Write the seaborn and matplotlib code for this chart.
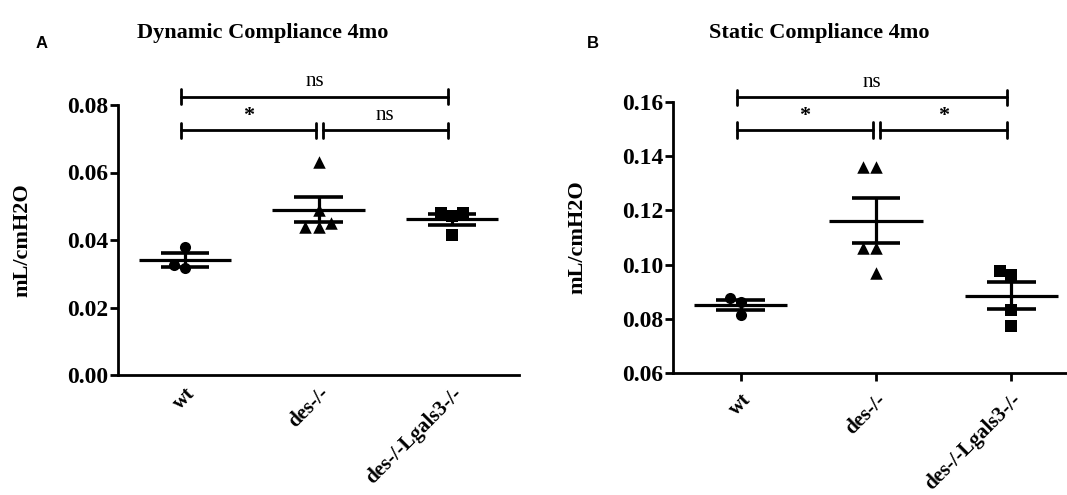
import numpy as np
import pandas as pd
import matplotlib
matplotlib.use("Agg")
import matplotlib.pyplot as plt
import matplotlib.transforms as mtransforms
import seaborn as sns

# ---------------- data ----------------
categories = ["wt", "des-/-", "des-/-Lgals3-/-"]

dyn_wt = [0.0379, 0.0317, 0.0326]
dyn_des = [0.063, 0.049, 0.045, 0.044, 0.044]
dyn_dko = [0.048, 0.048, 0.047, 0.0415]

stat_wt = [0.0877, 0.0862, 0.0814]
stat_des = [0.136, 0.136, 0.106, 0.106, 0.097]
stat_dko = [0.0976, 0.0962, 0.0832, 0.0773]

dyn_ticks = [0.00, 0.02, 0.04, 0.06, 0.08]
stat_ticks = [0.06, 0.08, 0.10, 0.12, 0.14, 0.16]

# significance labels for pairs (wt,des), (des,dko), (wt,dko)
dyn_sig = ["*", "ns", "ns"]
stat_sig = ["*", "*", "ns"]

titles = ["Dynamic Compliance 4mo", "Static Compliance 4mo"]
letters = ["A", "B"]
ylabel = "mL/cmH2O"
markers = ["o", "^", "s"]
msizes = [8, 9, 8]

# ---------------- style ----------------
sns.set_theme(style="ticks")
plt.rcParams["font.family"] = ["Liberation Serif", "DejaVu Serif"]
plt.rcParams["font.weight"] = "bold"
for key in ["text.color", "axes.labelcolor", "xtick.color", "ytick.color",
            "axes.edgecolor"]:
    plt.rcParams[key] = "black"

fig = plt.figure(figsize=(10.67, 4.95), dpi=100)
fig.patch.set_facecolor("white")

axA = fig.add_axes([118 / 1067, 120 / 495, 401 / 1067, 270 / 495])
axB = fig.add_axes([673 / 1067, 122 / 495, 406 / 1067, 271 / 495])


def make_df(groups):
    rows = []
    for cat, vals in zip(categories, groups):
        for v in vals:
            rows.append({"group": cat, "value": v})
    return pd.DataFrame(rows)


def draw_panel(ax, groups, ticks, sig, title, letter, xtick_marks,
               title_x, letter_x, ylab_x, low_y, high_y):
    df = make_df(groups)
    for i, cat in enumerate(categories):
        sub = df[df["group"] == cat]
        sns.swarmplot(data=sub, x="group", y="value", order=categories,
                      marker=markers[i], size=msizes[i], color="black",
                      ax=ax, zorder=3, linewidth=0)
    # mean and SEM
    for i, vals in enumerate(groups):
        v = np.asarray(vals)
        m = v.mean()
        se = v.std(ddof=1) / np.sqrt(len(v))
        ax.hlines(m, i - 0.345, i + 0.345, color="black", lw=2.3, zorder=4)
        ax.hlines([m - se, m + se], i - 0.18, i + 0.18, color="black",
                  lw=2.6, zorder=4)
        ax.vlines(i, m - se, m + se, color="black", lw=2.3, zorder=4)

    ax.set_xlim(-0.5, 2.5)
    ax.set_ylim(ticks[0], ticks[-1])
    ax.set_yticks(ticks)
    ax.set_yticklabels([f"{t:.2f}" for t in ticks], fontsize=17,
                       fontweight="bold", color="black")
    ax.set_xticks(range(len(categories)))
    ax.set_xticklabels(categories, rotation=45, ha="right",
                       rotation_mode="anchor", fontsize=15, fontweight="bold",
                       color="black")
    ax.set_xlabel("")
    ax.set_ylabel(ylabel, fontsize=16, fontweight="bold", color="black")
    ax.yaxis.set_label_coords(ylab_x, 0.5)
    for s in ["top", "right"]:
        ax.spines[s].set_visible(False)
    for s in ["left", "bottom"]:
        ax.spines[s].set_linewidth(2.0)
        ax.spines[s].set_color("black")
    ax.tick_params(axis="y", length=6, width=2.0, color="black", pad=1)
    if xtick_marks:
        ax.tick_params(axis="x", length=6, width=2.0, color="black", pad=6)
    else:
        ax.tick_params(axis="x", length=0, pad=6)
    ax.set_facecolor("white")

    # significance brackets
    trans = mtransforms.blended_transform_factory(ax.transData, ax.transAxes)
    pairs = [(0, 1, low_y, -0.03, -0.02), (1, 2, low_y, 0.03, -0.03),
             (0, 2, high_y, -0.03, -0.03)]
    for (a, b, yy, da, db), lab in zip(pairs, sig):
        xa, xb = a + da, b + db
        ax.plot([xa, xb], [yy, yy], color="black", lw=2.0, transform=trans,
                clip_on=False, zorder=5)
        for xx in (xa, xb):
            ax.plot([xx, xx], [yy - 0.028, yy + 0.028], color="black", lw=2.0,
                    transform=trans, clip_on=False, zorder=5)
        if lab == "*":
            ax.text((xa + xb) / 2, yy + 0.015, lab, transform=trans,
                    ha="center", va="bottom", fontsize=16, fontweight="bold",
                    clip_on=False)
        else:
            ax.text((xa + xb) / 2, yy + 0.02, lab, transform=trans,
                    ha="center", va="bottom", fontsize=15,
                    fontweight="normal", clip_on=False)

    fig.text(title_x, 0.933, title, ha="center", va="center", fontsize=16,
             fontweight="bold")
    fig.text(letter_x, 0.912, letter, ha="center", va="center", fontsize=12,
             fontweight="bold", family=["Liberation Sans", "DejaVu Sans"])


draw_panel(axA, [dyn_wt, dyn_des, dyn_dko], dyn_ticks, dyn_sig, titles[0],
           letters[0], False, 263 / 1067, 42 / 1067, -0.214, 0.907, 1.03)
draw_panel(axB, [stat_wt, stat_des, stat_dko], stat_ticks, stat_sig,
           titles[1], letters[1], True, 819 / 1067, 593 / 1067, -0.212,
           0.897, 1.018)

fig.savefig("out.png", dpi=100, facecolor="white")
